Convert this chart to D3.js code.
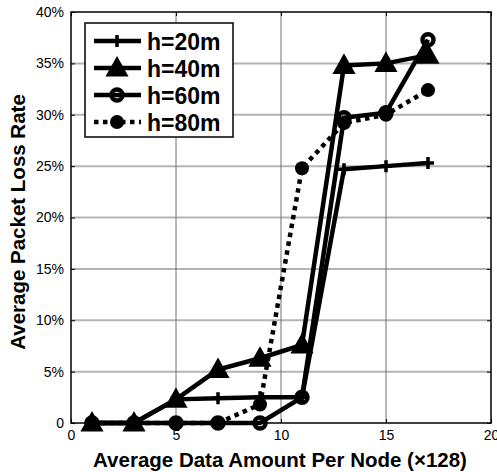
<!DOCTYPE html>
<html>
<head>
<meta charset="utf-8">
<script src="https://cdn.jsdelivr.net/npm/d3@7"></script>
<style>
  body { margin: 0; background: #fff; }
  text { font-family: Arial, "Liberation Sans", sans-serif; }
</style>
</head>
<body>
<div id="chart"></div>
<script>
"use strict";

// data
const xValues = [1, 3, 5, 7, 9, 11, 13, 15, 17];
const h20 = [0, 0, 2.3, 2.4, 2.5, 2.5, 24.7, 25.0, 25.3];
const h40 = [0, 0, 2.3, 5.2, 6.3, 7.6, 34.8, 35.0, 35.8];
const h60 = [0, 0, 0, 0, 0, 2.5, 29.7, 30.2, 37.3];
const h80 = [0, 0, 0, 0, 1.8, 24.8, 29.2, 30.0, 32.4];
const seriesNames = ["h=20m", "h=40m", "h=60m", "h=80m"];
const xTicks = [0, 5, 10, 15, 20];
const yTicks = [0, 5, 10, 15, 20, 25, 30, 35, 40];

const msm = {
  width: 497,
  height: 472,
  left: 71,
  right: 491,
  top: 12,
  bottom: 423
};

const svg = d3.select("#chart")
  .append("svg")
  .attr("width", msm.width)
  .attr("height", msm.height);

const xScale = d3.scaleLinear().domain([0, 20]).range([msm.left, msm.right]);
const yScale = d3.scaleLinear().domain([0, 40]).range([msm.bottom, msm.top]);

// grid lines
svg.append("g").selectAll("line")
  .data(yTicks.filter(t => t > 0 && t < 40))
  .enter().append("line")
  .attr("x1", msm.left).attr("x2", msm.right)
  .attr("y1", d => yScale(d)).attr("y2", d => yScale(d))
  .attr("stroke", "#b4b4b4").attr("stroke-width", 2);

svg.append("g").selectAll("line")
  .data(xTicks.filter(t => t > 0 && t < 20))
  .enter().append("line")
  .attr("x1", d => xScale(d)).attr("x2", d => xScale(d))
  .attr("y1", msm.top).attr("y2", msm.bottom)
  .attr("stroke", "#707070").attr("stroke-width", 1);

// axes, ticks inward on all four sides
const fmtY = d => d === 0 ? "0" : d + "%";
const bottomAxis = d3.axisBottom(xScale).tickValues(xTicks).tickSizeInner(-4).tickSizeOuter(0).tickPadding(7);
const topAxis = d3.axisTop(xScale).tickValues(xTicks).tickSizeInner(-4).tickSizeOuter(0).tickFormat("");
const leftAxis = d3.axisLeft(yScale).tickValues(yTicks).tickFormat(fmtY).tickSizeInner(-4).tickSizeOuter(0).tickPadding(7);
const rightAxis = d3.axisRight(yScale).tickValues(yTicks).tickSizeInner(-4).tickSizeOuter(0).tickFormat("");

function styleAxis(g) {
  g.select(".domain").remove();
  g.selectAll("line").attr("stroke", "#000");
  g.selectAll("text").attr("font-size", "14px").attr("fill", "#000")
    .style("font-family", "Arial, 'Liberation Sans', sans-serif");
}

svg.append("g").attr("transform", "translate(0," + msm.bottom + ")").call(bottomAxis).call(styleAxis);
svg.append("g").attr("transform", "translate(0," + msm.top + ")").call(topAxis).call(styleAxis);
svg.append("g").attr("transform", "translate(" + msm.left + ",0)").call(leftAxis).call(styleAxis);
svg.append("g").attr("transform", "translate(" + msm.right + ",0)").call(rightAxis).call(styleAxis);

svg.append("rect")
  .attr("x", msm.left).attr("y", msm.top)
  .attr("width", msm.right - msm.left).attr("height", msm.bottom - msm.top)
  .attr("fill", "none").attr("stroke", "#000").attr("stroke-width", 1.5);

// marker drawing
function drawMarker(g, type) {
  if (type === "plus") {
    g.append("path").attr("d", "M-6,0H6M0,-6V6")
      .attr("stroke", "#000").attr("stroke-width", 3.5).attr("fill", "none");
  } else if (type === "triangle") {
    g.append("path").attr("d", "M0,-9L9,7L-9,7Z")
      .attr("fill", "#000").attr("stroke", "#000").attr("stroke-width", 3)
      .attr("stroke-linejoin", "miter");
  } else if (type === "circle") {
    g.append("circle").attr("r", 5.5)
      .attr("fill", "none").attr("stroke", "#000").attr("stroke-width", 4.5);
  } else {
    g.append("circle").attr("r", 7).attr("fill", "#000");
  }
}

const series = [
  { name: seriesNames[0], values: h20, marker: "plus", dash: null },
  { name: seriesNames[1], values: h40, marker: "triangle", dash: null },
  { name: seriesNames[2], values: h60, marker: "circle", dash: null },
  { name: seriesNames[3], values: h80, marker: "dot", dash: "4.5,4.5" }
];

const line = d3.line()
  .x((d, i) => xScale(xValues[i]))
  .y(d => yScale(d));

series.forEach(s => {
  const g = svg.append("g");
  g.append("path")
    .datum(s.values)
    .attr("d", line)
    .attr("fill", "none")
    .attr("stroke", "#000")
    .attr("stroke-width", 4.5)
    .attr("stroke-linejoin", "miter")
    .attr("stroke-dasharray", s.dash);
  s.values.forEach((v, i) => {
    const m = g.append("g")
      .attr("transform", "translate(" + xScale(xValues[i]) + "," + yScale(v) + ")");
    drawMarker(m, s.marker);
  });
});

// legend
const legend = svg.append("g").attr("transform", "translate(85,23)");
legend.append("rect")
  .attr("width", 148).attr("height", 114)
  .attr("fill", "#fff").attr("stroke", "#000").attr("stroke-width", 1.5);

series.forEach((s, i) => {
  const row = legend.append("g").attr("transform", "translate(0," + (18 + i * 27) + ")");
  row.append("line")
    .attr("x1", 9).attr("x2", 56)
    .attr("stroke", "#000").attr("stroke-width", 4.5)
    .attr("stroke-dasharray", s.dash);
  const m = row.append("g").attr("transform", "translate(32,0)");
  drawMarker(m, s.marker);
  row.append("text")
    .attr("x", 62).attr("y", 8.5)
    .attr("font-size", "23px").attr("font-weight", "bold")
    .text(s.name);
});

// axis labels
svg.append("text")
  .attr("x", 280).attr("y", 467)
  .attr("text-anchor", "middle")
  .attr("font-size", "20.5px").attr("font-weight", "bold")
  .text("Average Data Amount Per Node (×128)");

svg.append("text")
  .attr("transform", "translate(25,222)rotate(-90)")
  .attr("text-anchor", "middle")
  .attr("font-size", "20.5px").attr("font-weight", "bold")
  .text("Average Packet Loss Rate");
</script>
</body>
</html>
